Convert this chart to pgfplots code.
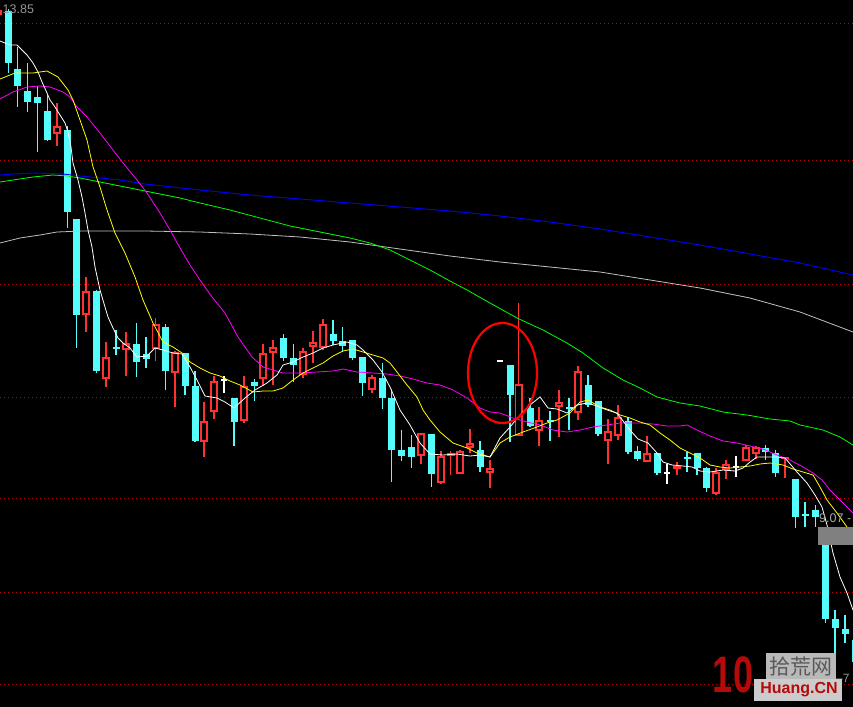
\documentclass[border=0pt]{standalone}
\usepackage{pgfplots}
\pgfplotsset{compat=1.18}
\usepackage{pgfplotstable}
\usepackage{graphicx}
\usepackage{fontspec}
\setmainfont{Liberation Sans}
\newfontfamily\cjk{Noto Sans CJK SC}
\definecolor{cc}{RGB}{84,252,252}
\definecolor{rc}{RGB}{255,50,50}
\definecolor{gridred}{RGB}{190,0,0}
\definecolor{ma5}{RGB}{255,255,255}
\definecolor{ma10}{RGB}{255,255,0}
\definecolor{ma20}{RGB}{255,0,255}
\definecolor{ma60}{RGB}{0,255,0}
\definecolor{ma120}{RGB}{0,0,255}
\definecolor{ma250}{RGB}{192,192,192}
\definecolor{lbl}{RGB}{150,150,150}
\definecolor{wmred}{RGB}{180,10,10}

\pgfplotstableread{
x t b h l
8.5 11 63 9 73
17.5 69 86 47 107
27.5 91 102 63 112
37.5 97 103 86 152
47.5 111 140 95 141
67.5 130 212 126 228
76.5 219 315 219 348
96.5 291 371 290 373
116 347 349 330 355
136.5 344 362 323 377
146 354 359 337 368
165.5 327 371 324 390
185 353 386 353 395
195 386 441 371 442
234 398 422 398 446
254.5 382 386 379 401
283.5 338 358 334 361
293.5 358 365 344 382
333 334 341 320 345
342.5 341 346 327 352
352.5 340 358 340 360
362.5 357 383 357 396
382.5 378 398 363 409
391.5 398 450 389 482
401.5 450 456 430 461
411.5 447 457 435 468
431.5 434 474 434 487
480 450 467 441 472
510 365 395 365 442
530 408 426 398 427
550 420 422 411 441
569 407 409 398 430
588 385 405 375 407
598 401 434 401 436
628 421 452 417 454
637.5 451 459 446 461
657 453 473 453 475
687 457 459 452 472
697 453 468 453 475
706.5 468 488 467 492
765.5 448 452 445 460
775.5 453 473 450 477
795.5 479 517 479 528
805 514 516 502 527
815.5 510 517 505 527
825.5 527 619 527 623
835 619 628 610 687
845 629 634 615 643
855 640 662 635 665
}\cyandata

\pgfplotstableread{
x t b h l
57 126 134 103 146
86 291 315 277 332
106 357 379 342 387
126 343 350 332 376
155.5 324 349 318 361
175 352 373 351 407
204 421 442 402 457
214 381 412 376 419
244 386 421 376 423
263 353 379 344 386
273 347 353 340 385
303 351 375 348 378
313 342 347 331 363
323 324 348 319 350
372 377 390 375 393
421 433 456 433 464
441 456 483 451 484
450.5 453 456 451 475
460 451 474 450 474
470 443 448 429 453
490 468 473 460 488
518.5 384 436 303 436
539 420 431 407 446
559 402 407 390 437
578 371 413 366 420
608 431 441 419 464
618 417 436 405 440
647 453 462 436 462
677 466 469 462 475
716 472 494 468 495
726 464 470 460 479
746 447 461 445 461
756 447 454 446 459
785 457 458.5 457 478
}\reddata

\pgfplotstableread{
x t b h l
224 379 380.5 376 393
500 360 361.5 360 361.5
667 472 473.5 464 484
736 466 467.5 456 477
}\whitedata

\begin{document}
\begin{tikzpicture}
\begin{axis}[scale only axis, width=853pt, height=706pt,
  xmin=0, xmax=853, ymin=0, ymax=706, y dir=reverse, hide axis, clip=true]
\fill[black] (axis cs:-5,-5) rectangle (axis cs:860,712);
\pgfplotsinvokeforeach{24,160,284,397,498,592,684}{
  \draw[gridred, line width=1pt, dash pattern=on 1.3pt off 2.7pt] (axis cs:0,#1) -- (axis cs:853,#1);
}
% cyan candles
\addplot[draw=none, forget plot, error bars/.cd, y dir=plus, y explicit, error mark=none,
  error bar style={draw=cc, line width=1.2pt}]
  table[x=x, y=h, y error plus expr=\thisrow{l}-\thisrow{h}] {\cyandata};
\addplot[draw=none, forget plot, error bars/.cd, y dir=plus, y explicit, error mark=none,
  error bar style={draw=cc, line width=7pt}]
  table[x=x, y=t, y error plus expr=\thisrow{b}-\thisrow{t}] {\cyandata};
% red candles
\addplot[draw=none, forget plot, error bars/.cd, y dir=plus, y explicit, error mark=none,
  error bar style={draw=rc, line width=1.2pt}]
  table[x=x, y=h, y error plus expr=\thisrow{l}-\thisrow{h}] {\reddata};
\addplot[draw=none, forget plot, error bars/.cd, y dir=plus, y explicit, error mark=none,
  error bar style={draw=rc, line width=8pt}]
  table[x=x, y=t, y error plus expr=\thisrow{b}-\thisrow{t}] {\reddata};
\addplot[draw=none, forget plot, error bars/.cd, y dir=plus, y explicit, error mark=none,
  error bar style={draw=black, line width=4.4pt}]
  table[x=x, y expr=\thisrow{t}+1.8, y error plus expr={max(\thisrow{b}-\thisrow{t}-3.6,0)}] {\reddata};
% white candles
\addplot[draw=none, forget plot, error bars/.cd, y dir=plus, y explicit, error mark=none,
  error bar style={draw=white, line width=1.2pt}]
  table[x=x, y=h, y error plus expr=\thisrow{l}-\thisrow{h}] {\whitedata};
\addplot[draw=none, forget plot, error bars/.cd, y dir=plus, y explicit, error mark=none,
  error bar style={draw=white, line width=6.5pt}]
  table[x=x, y=t, y error plus expr=\thisrow{b}-\thisrow{t}] {\whitedata};

% moving averages
\addplot[ma250, line width=0.8pt] coordinates {(0,243) (20,238) (40,235) (57,232) (83,231) (145,231) (200,232) (250,234) (300,237) (350,242) (400,249) (450,256) (500,262) (550,267) (600,272) (650,280) (700,288) (750,298) (800,312) (853,332)};
\addplot[ma120, line width=0.9pt] coordinates {(0,175) (13,174) (33,173) (63,174) (80,176) (100,178) (120,180) (145,184) (200,190) (250,195) (300,199) (350,203) (400,207) (450,211) (500,216) (550,222) (600,229) (650,237) (700,245) (750,254) (800,263) (853,275)};
\addplot[ma60, line width=0.8pt] coordinates {(0,182) (13,180) (33,177) (53,175) (67,176) (80,178) (100,182) (120,186) (140,190) (160,194) (180,198) (200,203) (230,210) (260,218) (290,226) (320,232) (350,238) (370,243) (390,250) (410,260) (430,270) (450,281) (467,290) (490,303) (517,318) (543,330) (567,343) (583,353) (603,368) (623,380) (640,388) (657,397) (680,403) (700,406) (723,412) (747,415) (770,419) (790,421) (800,425) (823,430) (840,437) (853,445)};
\addplot[ma20, line width=0.8pt] coordinates {(0,99) (13,92) (27,87) (40,86) (50,87) (63,92) (70,97) (77,107) (87,117) (100,133) (113,150) (123,163) (137,180) (147,193) (160,213) (170,230) (180,248) (190,265) (200,280) (212,297) (225,313) (238,337) (252,357) (263,367) (273,370) (283,373) (300,373) (317,372) (333,371) (343,369) (357,372) (373,373) (387,374) (400,376) (413,379) (427,383) (440,385) (453,390) (467,398) (480,408) (490,412) (500,413) (513,418) (527,422) (540,425) (553,430) (567,432) (580,430) (593,427) (607,425) (620,423) (640,423) (653,424) (667,426) (680,426) (687,425) (697,430) (710,436) (723,441) (737,443) (750,446) (763,449) (777,455) (790,460) (803,467) (813,473) (822,480) (830,490) (840,500) (848,508) (853,513)};
\addplot[ma10, line width=0.8pt] coordinates {(0,79) (15,73) (33,73) (47,71) (58,77) (68,90) (73,100) (80,120) (87,140) (93,167) (100,187) (107,210) (115,233) (125,253) (135,277) (143,300) (153,323) (163,342) (173,347) (182,353) (190,362) (200,368) (210,373) (220,376) (230,381) (240,385) (253,392) (263,391) (273,391) (283,388) (293,380) (303,373) (313,368) (323,363) (333,356) (343,351) (353,349) (363,352) (373,355) (383,358) (390,363) (397,372) (407,385) (417,397) (423,410) (430,420) (440,432) (453,443) (467,448) (477,453) (490,457) (500,443) (510,437) (523,432) (537,427) (547,423) (557,420) (570,413) (580,402) (588,400) (600,407) (610,410) (620,415) (630,418) (640,422) (650,425) (660,433) (670,440) (680,448) (690,453) (700,458) (710,465) (720,467) (730,468) (740,467) (750,466) (760,464) (770,463) (783,465) (793,469) (803,472) (813,475) (820,487) (827,500) (837,513) (847,527) (853,543)};
\addplot[ma5, line width=0.8pt] coordinates {(0,41) (10,45) (17,45) (20,48) (27,55) (33,63) (38,72) (42,82) (47,93) (50,100) (55,107) (60,115) (65,123) (68,132) (71,147) (73,163) (78,180) (82,197) (85,213) (88,230) (92,247) (95,267) (100,290) (105,307) (108,317) (113,328) (118,338) (123,343) (130,348) (137,357) (147,356) (155,348) (163,350) (173,353) (182,354) (190,367) (197,380) (205,396) (217,398) (225,402) (234,408) (245,398) (255,390) (267,383) (277,375) (283,365) (293,362) (303,357) (313,353) (323,348) (333,345) (347,342) (357,345) (363,350) (373,360) (382,372) (390,387) (400,410) (410,425) (420,443) (430,454) (443,455) (457,454) (470,456) (480,455) (490,457) (500,438) (510,427) (520,415) (530,405) (540,397) (548,408) (557,409) (567,413) (577,405) (587,403) (597,406) (607,410) (617,413) (620,417) (630,430) (638,439) (648,443) (657,453) (663,462) (672,465) (683,466) (692,467) (700,471) (710,472) (723,470) (735,471) (743,468) (750,462) (757,457) (767,457) (777,457) (785,458) (797,472) (807,483) (815,495) (822,507) (827,525) (833,553) (840,577) (847,593) (853,610)};

% annotations
\draw[red, line width=2.2pt] (axis cs:502.5,373) ellipse [x radius=34.5pt, y radius=50pt];
\fill[rc] (axis cs:0,10) rectangle (axis cs:2,15);
\node[anchor=west, inner sep=0pt, text=lbl, font=\fontsize{12.5}{12.5}\selectfont] at (axis cs:2.5,9.5) {13.85};
\fill[gray] (axis cs:818,527) rectangle (axis cs:853,545);
\node[anchor=west, inner sep=0pt, text=lbl!80!white, font=\fontsize{12.5}{12.5}\selectfont] at (axis cs:819,518) {9.07 -};
\node[anchor=west, inner sep=0pt, text=lbl, font=\fontsize{12}{12}\selectfont] at (axis cs:836,678) {--7};
% watermark
\fill[gray!55] (axis cs:766,653) rectangle (axis cs:836,680);
\fill[gray!40] (axis cs:754,679) rectangle (axis cs:842,701);
\node[inner sep=0pt, text=black!65, font=\cjk\fontsize{21}{21}\selectfont] at (axis cs:801,667) {拾荒网};
\node[inner sep=0pt, text=wmred, font=\bfseries\fontsize{16}{16}\selectfont] at (axis cs:799,690) {Huang.CN};
\node[inner sep=0pt, text=wmred, font=\bfseries\fontsize{38}{38}\selectfont] at (axis cs:733,675) {\scalebox{0.95}[1.35]{10}};
\end{axis}
\pgfresetboundingbox
\path[use as bounding box] (0,0) rectangle (853pt,706pt);
\end{tikzpicture}
\end{document}
